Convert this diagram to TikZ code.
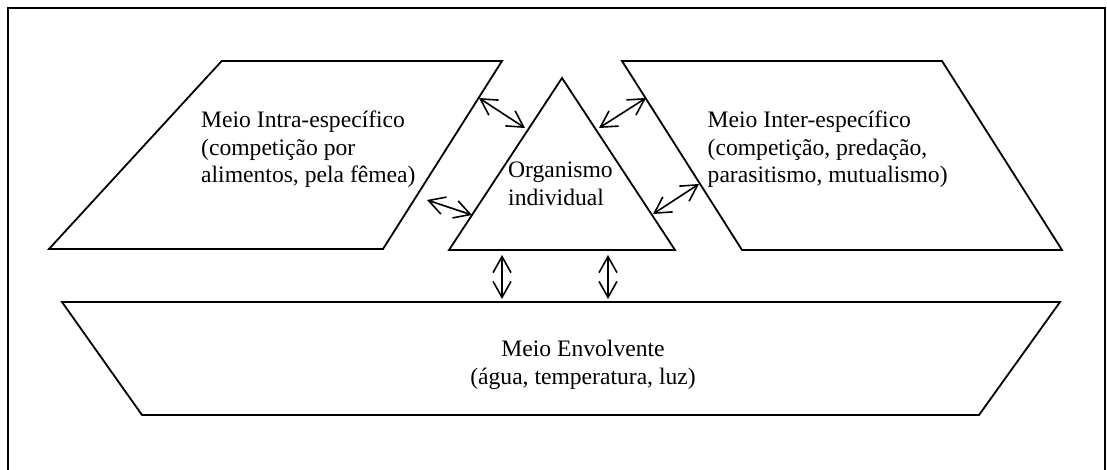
\documentclass[tikz,border=0pt]{standalone}
\usepackage{fontspec}
\setmainfont{Liberation Serif}
\usetikzlibrary{arrows.meta}
\begin{document}
\begin{tikzpicture}[x=1pt,y=-1pt,
  frame/.style={line width=2pt},
  region/.style={line width=1.8pt, line join=miter},
  link/.style={line width=1.6pt,
    {Straight Barb[length=16pt,width=18pt]}-{Straight Barb[length=16pt,width=18pt]}},
  txt/.style={inner sep=0pt, font=\fontsize{23.6}{28}\selectfont},
]
\useasboundingbox (0,0) rectangle (1107,470);

% outer frame (open at the bottom)
\draw[frame] (8,475) -- (8,8) -- (1105,8) -- (1105,475);

% the four regions
\draw[region] (221.7,61) -- (502,61) -- (383,249) -- (49,249) -- cycle;
\draw[region] (562,78) -- (675,250) -- (449,250) -- cycle;
\draw[region] (622,61) -- (942,61) -- (1062,250) -- (742,250) -- cycle;
\draw[region] (62,302) -- (1060,302) -- (979,415) -- (142,415) -- cycle;

% texts
\node[txt, anchor=base west] (intraA) at (201,128) {Meio Intra-específico};
\node[txt, anchor=base west] (intraB) at (201,155.5) {(competição por};
\node[txt, anchor=base west] (intraC) at (201,183) {alimentos, pela fêmea)};

\node[txt, anchor=base west] (orgA) at (508,178) {Organismo};
\node[txt, anchor=base west] (orgB) at (508,206) {individual};

\node[txt, anchor=base west] (interA) at (707.5,128) {Meio Inter-específico};
\node[txt, anchor=base west] (interB) at (707.5,155.5) {(competição, predação,};
\node[txt, anchor=base west] (interC) at (707.5,183) {parasitismo, mutualismo)};

\node[txt, anchor=base] (envA) at (583,356) {Meio Envolvente};
\node[txt, anchor=base] (envB) at (583,384) {(água, temperatura, luz)};

% arrow end points on the region borders
\coordinate (intraUp)  at (479,98);
\coordinate (orgUpL)   at (525,128);
\coordinate (intraLow) at (427,200);
\coordinate (orgLowL)  at (472,215);
\coordinate (orgUpR)   at (599,128);
\coordinate (interUp)  at (646,98);
\coordinate (orgLowR)  at (653,214);
\coordinate (interLow) at (699,184);
\coordinate (orgBotL)  at (502,255);
\coordinate (envTopL)  at (502,299);
\coordinate (orgBotR)  at (608,255);
\coordinate (envTopR)  at (608,299);

% two-way interactions
\draw[link] (intraUp) -- (orgUpL);
\draw[link] (intraLow) -- (orgLowL);
\draw[link] (orgUpR) -- (interUp);
\draw[link] (orgLowR) -- (interLow);
\draw[link] (orgBotL) -- (envTopL);
\draw[link] (orgBotR) -- (envTopR);
\end{tikzpicture}
\end{document}
